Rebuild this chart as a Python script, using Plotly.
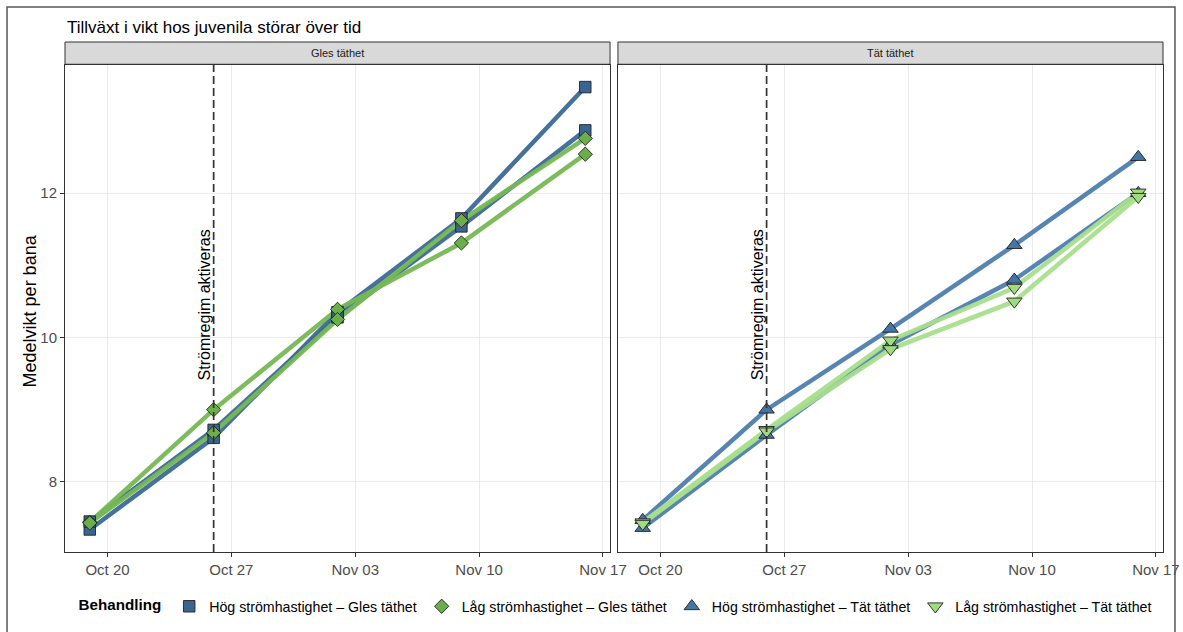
import plotly.graph_objects as go
from plotly.subplots import make_subplots

# Sampling dates (weekly weighing)
dates = ["2024-10-19", "2024-10-26", "2024-11-02", "2024-11-09", "2024-11-16"]
regime_start = "2024-10-26"

# Mean weight per tank (bana), two tanks per treatment
hog_gles_1 = [7.34, 8.61, 10.35, 11.65, 13.47]
hog_gles_2 = [7.45, 8.72, 10.28, 11.54, 12.87]
lag_gles_1 = [7.44, 9.00, 10.39, 11.31, 12.54]
lag_gles_2 = [7.43, 8.68, 10.25, 11.62, 12.76]

hog_tat_1 = [7.47, 9.00, 10.12, 11.28, 12.50]
hog_tat_2 = [7.36, 8.65, 9.90, 10.80, 12.00]
lag_tat_1 = [7.44, 8.72, 9.96, 10.69, 12.01]
lag_tat_2 = [7.42, 8.70, 9.84, 10.50, 11.95]

panel_titles = ["Gles täthet", "Tät täthet"]
treatments = [
    "Hög strömhastighet – Gles täthet",
    "Låg strömhastighet – Gles täthet",
    "Hög strömhastighet – Tät täthet",
    "Låg strömhastighet – Tät täthet",
]
x_ticks = ["2024-10-20", "2024-10-27", "2024-11-03", "2024-11-10", "2024-11-17"]
y_ticks = [8, 10, 12]

FONT = "Liberation Sans, Arial, sans-serif"

styles = {
    treatments[0]: dict(line="#3D6A98", fill="#3A6591", symbol="square", size=11.5),
    treatments[1]: dict(line="#76B954", fill="#6AAF4A", symbol="diamond", size=11),
    treatments[2]: dict(line="#4D7FAF", fill="#4575A5", symbol="triangle-up", size=13.5),
    treatments[3]: dict(line="#A8DF8E", fill="#9EDC7E", symbol="triangle-down", size=13.5),
}

series = [
    (1, treatments[0], hog_gles_1),
    (1, treatments[0], hog_gles_2),
    (1, treatments[1], lag_gles_1),
    (1, treatments[1], lag_gles_2),
    (2, treatments[2], hog_tat_1),
    (2, treatments[2], hog_tat_2),
    (2, treatments[3], lag_tat_1),
    (2, treatments[3], lag_tat_2),
]

fig = make_subplots(rows=1, cols=2, shared_yaxes=True, horizontal_spacing=0.0072)

# lines first, points on top
for col, name, vals in series:
    st = styles[name]
    fig.add_trace(go.Scatter(
        x=dates, y=vals, mode="lines",
        line=dict(color=st["line"], width=4.5),
        opacity=0.95, showlegend=False, hoverinfo="skip"),
        row=1, col=col)
for col, name, vals in series:
    st = styles[name]
    fig.add_trace(go.Scatter(
        x=dates, y=vals, mode="markers", name=name,
        marker=dict(symbol=st["symbol"], size=st["size"], color=st["fill"],
                    line=dict(color="#222222", width=0.9)),
        showlegend=False),
        row=1, col=col)

# legend keys (points only)
for name in treatments:
    st = styles[name]
    fig.add_trace(go.Scatter(
        x=[None], y=[None], mode="markers", name=name,
        marker=dict(symbol=st["symbol"], size=st["size"], color=st["fill"],
                    line=dict(color="#222222", width=0.9)),
        showlegend=True), row=1, col=1)

x_range = ["2024-10-17 14:24", "2024-11-17 09:36"]
y_range = [7.028, 13.776]

axis_common = dict(
    showgrid=True, gridcolor="#EBEBEB", gridwidth=1,
    showline=True, linecolor="#333333", linewidth=1, mirror=True,
    ticks="outside", ticklen=4, tickcolor="#333333",
    tickfont=dict(family=FONT, size=15, color="#4D4D4D"),
    zeroline=False, automargin=False,
)
for c in (1, 2):
    fig.update_xaxes(range=x_range, tickvals=x_ticks, tickformat="%b %d",
                     row=1, col=c, **axis_common)
    fig.update_yaxes(range=y_range, tickvals=y_ticks, row=1, col=c, **axis_common)
fig.update_yaxes(showticklabels=False, ticks="", row=1, col=2)

fig.update_layout(
    xaxis=dict(domain=[0, 0.4964]),
    xaxis2=dict(domain=[0.5036, 1]),
)

shapes = []
annotations = []
domains = [(0, 0.4964), (0.5036, 1)]
strip_top = 1 + 23 / 487
for i, (d0, d1) in enumerate(domains):
    xref = "x" if i == 0 else "x2"
    # strip header
    shapes.append(dict(type="rect", xref="paper", yref="paper",
                       x0=d0, x1=d1, y0=1.0015, y1=strip_top,
                       fillcolor="#D9D9D9", line=dict(color="#333333", width=1),
                       layer="below"))
    annotations.append(dict(text=panel_titles[i], xref="paper", yref="paper",
                            x=(d0 + d1) / 2, y=(1 + strip_top) / 2,
                            showarrow=False, xanchor="center", yanchor="middle",
                            font=dict(family=FONT, size=11, color="#1A1A1A")))
    # flow regime start
    shapes.append(dict(type="line", xref=xref, yref="paper",
                       x0=regime_start, x1=regime_start, y0=0, y1=1,
                       line=dict(color="#333333", width=1.7, dash="8px,4px")))
    annotations.append(dict(text="Strömregim aktiveras", xref=xref, yref="y",
                            x=regime_start, y=9.38, xshift=-9,
                            textangle=-90, showarrow=False,
                            xanchor="center", yanchor="bottom",
                            font=dict(family=FONT, size=16, color="#000000")))

# outer frame
shapes.append(dict(type="rect", xref="paper", yref="paper",
                   x0=-0.0528, x1=1.0109, y0=-0.2, y1=1.119,
                   line=dict(color="#555555", width=1.5), fillcolor="rgba(0,0,0,0)"))

annotations.append(dict(text="Tillväxt i vikt hos juvenila störar över tid",
                        xref="paper", yref="paper", x=0.0, y=1.078,
                        xanchor="left", yanchor="middle", showarrow=False,
                        font=dict(family=FONT, size=17, color="#000000")))
annotations.append(dict(text="Medelvikt per bana", xref="paper", yref="paper",
                        x=-0.0319, y=0.496, textangle=-90, showarrow=False,
                        xanchor="center", yanchor="middle",
                        font=dict(family=FONT, size=18, color="#000000")))

fig.update_layout(
    width=1183, height=632,
    margin=dict(l=65, r=20, t=65, b=80, autoexpand=False),
    paper_bgcolor="white", plot_bgcolor="white",
    font=dict(family=FONT),
    shapes=shapes, annotations=annotations,
    showlegend=True,
    legend=dict(
        orientation="h", x=0.0105, y=-0.112, xanchor="left", yanchor="middle",
        title=dict(text="<b>Behandling</b>", side="left",
                   font=dict(family=FONT, size=15.2, color="#000000")),
        font=dict(family=FONT, size=14.2, color="#000000"),
        bgcolor="rgba(0,0,0,0)", itemclick=False,
    ),
)

fig.write_html("out.html")
